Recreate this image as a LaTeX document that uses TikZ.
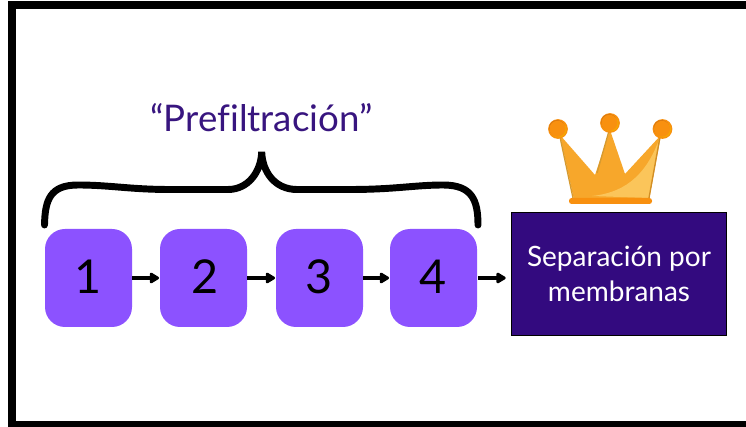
\documentclass[tikz,border=0pt]{standalone}
\usepackage{fontspec}
\setmainfont[Ligatures=NoCommon]{Lato}
\usetikzlibrary{arrows.meta}
\definecolor{stepfill}{HTML}{8C52FF}
\definecolor{boxfill}{HTML}{330A7F}
\definecolor{titlecol}{HTML}{38157F}
\definecolor{crownA}{HTML}{F7A72B}
\definecolor{crownB}{HTML}{FBC55A}
\definecolor{crownC}{HTML}{F8900F}
\definecolor{crownD}{HTML}{D69A30}
\definecolor{crownE}{HTML}{F5A800}
\definecolor{crownF}{HTML}{D9780F}
\tikzset{
  x=0.75pt,y=-0.75pt,
  stepbox/.style={fill=stepfill,rounded corners=15pt,minimum width=65.25pt,minimum height=73.5pt,inner sep=0pt,font=\fontsize{35}{35}\selectfont,text=black},
  flow/.style={line width=2.6pt,-{Triangle[length=8pt,width=9pt,round]},black,shorten >=0.5pt},
}
\newcommand{\digitup}[1]{\raisebox{1.5pt}{#1}}
\begin{document}
\begin{tikzpicture}
\useasboundingbox (0,0) rectangle (746,427);
\fill[white] (0,0) rectangle (746,427);
% frame
\fill[black] (8,1) rectangle (746,9);
\fill[black] (8,1) rectangle (16,427);
\fill[black] (8,421) rectangle (746,427);
% boxes
\node[stepbox] (s1) at (88.5,278) {\digitup{1}};
\node[stepbox] (s2) at (203.5,278) {\kern2pt\digitup{2}};
\node[stepbox] (s3) at (319.5,278) {\digitup{3}};
\node[stepbox] (s4) at (433.5,278) {\digitup{4}};
\node[draw=black,line width=0.9pt,fill=boxfill,text=white,minimum width=161pt,minimum height=92.5pt,inner sep=0pt,align=center,font=\fontsize{21}{26}\selectfont] (m) at (619,274) {Separación por\\membranas};
\draw[flow] (s1) -- (s2);
\draw[flow] (s2) -- (s3);
\draw[flow] (s3) -- (s4);
\coordinate (mleft) at (m.west |- s4.east);
\draw[flow] ([xshift=0.6pt]s4.east) -- ([xshift=-3.5pt]mleft);
% title
\node[text=titlecol,font=\fontsize{27.5}{27.5}\selectfont,inner sep=0pt] (title) at (261.5,117.5) {“Prefiltración”};
% brace
\draw[line width=5.2pt,line cap=round,black] (44.5,225)
  .. controls (45,200) and (50,185) .. (78,185)
  .. controls (110,185) and (130,189.5) .. (170,189.5)
  -- (228,189.5)
  .. controls (248,189.5) and (261,172) .. (261.7,152)
  .. controls (262.4,172) and (275,189.5) .. (297,189.5)
  -- (350,189.5)
  .. controls (395,189.5) and (415,185) .. (443,185)
  .. controls (472,185) and (478,200) .. (478,225);
% crown
\fill[crownA] (560,135) -- (574,200) -- (649,200) -- (661,135) -- (625,174) -- (610,130) -- (595,175) -- cycle;
\fill[crownB] (660,137) -- (649,198) -- (592,196) .. controls (620,193) and (645,180) .. (660,137);
\draw[crownD,line width=1pt] (560,137) -- (573,198);
\draw[crownD,line width=1pt] (609,131) -- (597,173);
\draw[crownA!85!black,line width=1pt] (660,137) -- (649,198);
\fill[crownC,rounded corners=2pt] (569,198) rectangle (652,204);
\foreach \cx/\cy in {558/129,610/123,662.5/129}{
  \fill[crownC] (\cx,\cy) circle[radius=7.4pt];
  \fill[crownE] (\cx+0.5,\cy+0.5) circle[radius=6pt];
  \fill[crownF] (\cx-1,\cy-1) circle[radius=6pt];
  \fill[crownC] (\cx-0.5,\cy-0.2) circle[radius=6pt];
}
\end{tikzpicture}
\end{document}
